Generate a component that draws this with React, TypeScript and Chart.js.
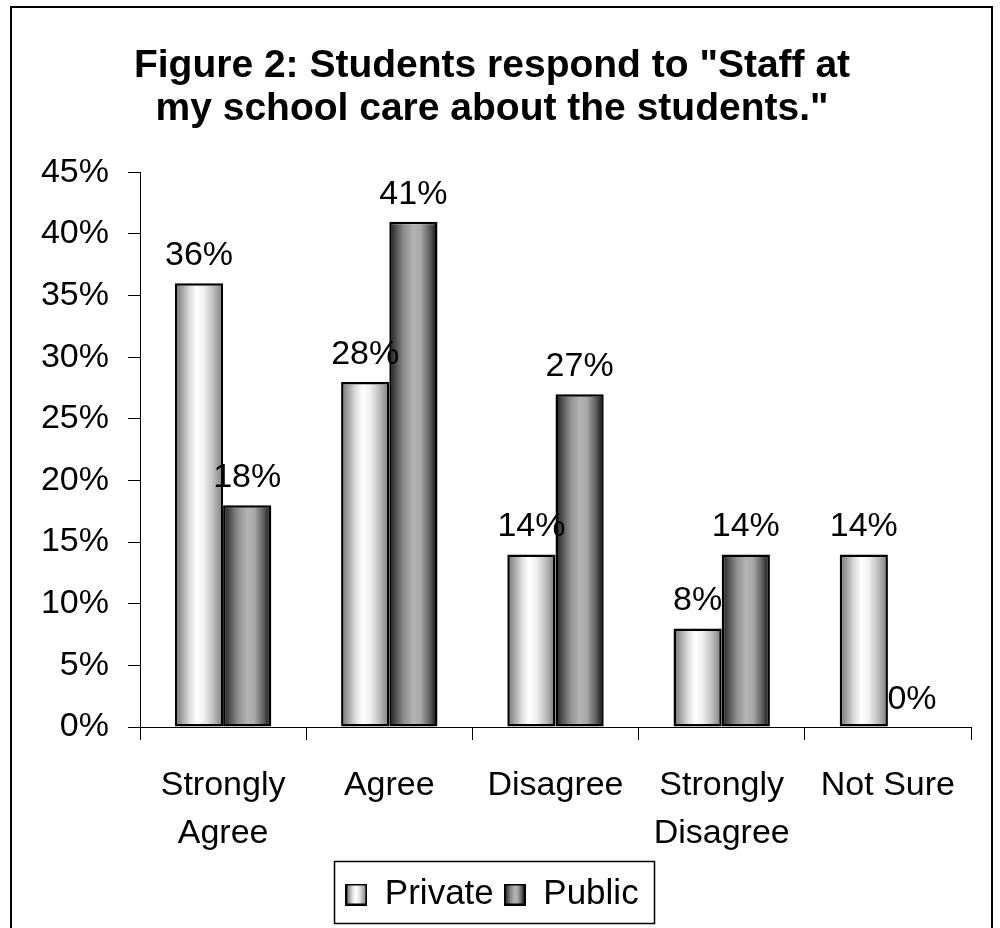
import React, { useEffect, useRef } from "react";
import { Chart, registerables } from "chart.js";

Chart.register(...registerables);

const categories: (string | string[])[] = [["Strongly", "Agree"], "Agree", "Disagree", ["Strongly", "Disagree"], "Not Sure"];
const seriesNames = ["Private", "Public"];
const privateValues = [36, 28, 14, 8, 14];
const publicValues = [18, 41, 27, 14, 0];
const yMin = 0;
const yMax = 45;
const yStep = 5;

const FONT = "'Liberation Sans', Arial, Helvetica, sans-serif";
const CAT_PCT = 0.58;

const privateStops: [number, string][] = [
  [0, "#707070"], [0.12, "#9a9a9a"], [0.3, "#dcdcdc"], [0.45, "#ffffff"], [0.6, "#f0f0f0"], [0.8, "#bdbdbd"], [1, "#7a7a7a"],
];
const publicStops: [number, string][] = [
  [0, "#1a1a1a"], [0.12, "#4a4a4a"], [0.3, "#8c8c8c"], [0.5, "#b4b4b4"], [0.65, "#a8a8a8"], [0.85, "#5a5a5a"], [1, "#0a0a0a"],
];

function makeSwatch(stops: [number, string][]) {
  const c = document.createElement("canvas");
  c.width = 22;
  c.height = 22;
  const g = c.getContext("2d")!;
  const grad = g.createLinearGradient(1, 0, 21, 0);
  stops.forEach(([o, col]) => grad.addColorStop(o, col));
  g.fillStyle = grad;
  g.fillRect(1, 1, 20, 20);
  g.strokeStyle = "#000";
  g.lineWidth = 2;
  g.strokeRect(1, 1, 20, 20);
  return c;
}

function barGradient(stops: [number, string][], dsIndex: number) {
  return (ctx: any) => {
    const chart = ctx.chart;
    const xs = chart.scales && chart.scales.x;
    if (!xs || ctx.type !== "data" || !(xs.right > xs.left)) return stops[3][1];
    const center = xs.getPixelForValue(ctx.dataIndex);
    const catW = (xs.right - xs.left) / categories.length;
    const bw = (catW * CAT_PCT) / 2;
    const left = dsIndex === 0 ? center - bw : center;
    const grad = chart.ctx.createLinearGradient(left, 0, left + bw, 0);
    stops.forEach(([o, col]) => grad.addColorStop(o, col));
    return grad;
  };
}

const framePlugin = {
  id: "frame",
  beforeDraw(chart: any) {
    const c = chart.ctx;
    c.save();
    c.fillStyle = "#fff";
    c.fillRect(0, 0, chart.width, chart.height);
    c.strokeStyle = "#000";
    c.lineWidth = 2;
    c.strokeRect(11, 7, 981, 1000);
    c.restore();
  },
};

const valueLabelPlugin = {
  id: "valueLabels",
  afterDatasetsDraw(chart: any) {
    const c = chart.ctx;
    c.save();
    c.font = `34px ${FONT}`;
    c.fillStyle = "#000";
    c.textAlign = "center";
    c.textBaseline = "alphabetic";
    chart.data.datasets.forEach((ds: any, di: number) => {
      const meta = chart.getDatasetMeta(di);
      meta.data.forEach((el: any, i: number) => {
        c.fillText(`${ds.data[i]}%`, el.x, el.y - 18);
      });
    });
    c.restore();
  },
};

const legendBoxPlugin = {
  id: "legendBox",
  afterDraw(chart: any) {
    const lg = chart.legend;
    if (!lg || !lg.legendHitBoxes || !lg.legendHitBoxes.length) return;
    const boxes = lg.legendHitBoxes;
    let l = Infinity, r = -Infinity, t = Infinity, b = -Infinity;
    boxes.forEach((h: any) => {
      l = Math.min(l, h.left);
      r = Math.max(r, h.left + h.width);
      t = Math.min(t, h.top);
      b = Math.max(b, h.top + h.height);
    });
    const x0 = Math.round(l - 11) + 0.5;
    const y0 = Math.round(t - 16) + 0.5;
    const x1 = Math.round(r + 15) + 0.5;
    const y1 = Math.round(b + 11) + 0.5;
    const c = chart.ctx;
    c.save();
    c.strokeStyle = "#000";
    c.lineWidth = 1.5;
    c.strokeRect(x0, y0, x1 - x0, y1 - y0);
    c.restore();
  },
};

export default function App() {
  const ref = useRef<HTMLCanvasElement>(null);
  useEffect(() => {
    if (!ref.current) return;
    const swatches = [makeSwatch(privateStops), makeSwatch(publicStops)];
    const chart = new Chart(ref.current, {
      type: "bar",
      data: {
        labels: categories,
        datasets: [
          {
            label: seriesNames[0],
            data: privateValues,
            backgroundColor: barGradient(privateStops, 0),
            borderColor: "#000",
            borderWidth: 2.5,
            borderSkipped: false,
            categoryPercentage: CAT_PCT,
            barPercentage: 1,
          },
          {
            label: seriesNames[1],
            data: publicValues,
            backgroundColor: barGradient(publicStops, 1),
            borderColor: "#000",
            borderWidth: 2.5,
            borderSkipped: false,
            categoryPercentage: CAT_PCT,
            barPercentage: 1,
          },
        ],
      },
      options: {
        responsive: false,
        animation: false,
        events: [],
        layout: { padding: { left: 13, right: 29, top: 0, bottom: 6 } },
        plugins: {
          tooltip: { enabled: false },
          title: {
            display: true,
            text: ['Figure 2: Students respond to "Staff at', 'my school care about the students."'],
            color: "#000",
            font: { family: FONT, size: 39, weight: "bold", lineHeight: 1.12 },
            padding: { top: 44, bottom: 41 },
          },
          legend: {
            display: true,
            position: "bottom",
            labels: {
              color: "#000",
              font: { family: FONT, size: 35 },
              usePointStyle: true,
              boxWidth: 22,
              boxHeight: 22,
              padding: 10,
              generateLabels: () =>
                seriesNames.map((name, i) => ({
                  text: name,
                  fillStyle: "#fff",
                  strokeStyle: "#000",
                  lineWidth: 0,
                  pointStyle: swatches[i],
                  hidden: false,
                  datasetIndex: i,
                  fontColor: "#000",
                })),
            },
          },
        },
        scales: {
          x: {
            type: "category",
            grid: { display: true, drawOnChartArea: false, offset: true, tickLength: 13, color: "#000", lineWidth: 1 },
            border: { display: true, color: "#000", width: 1 },
            ticks: {
              color: "#000",
              font: { family: FONT, size: 34, lineHeight: 1.4 },
              padding: 22,
              maxRotation: 0,
              autoSkip: false,
            },
            afterFit: (s: any) => {
              s.height = 140;
            },
          },
          y: {
            type: "linear",
            min: yMin,
            max: yMax,
            grid: { display: true, drawOnChartArea: false, tickLength: 12, color: "#000", lineWidth: 1 },
            border: { display: true, color: "#000", width: 1 },
            ticks: {
              stepSize: yStep,
              color: "#000",
              font: { family: FONT, size: 34 },
              padding: 19,
              callback: (v: any) => `${v}%`,
            },
            afterFit: (s: any) => {
              s.width = 127;
            },
          },
        },
      },
      plugins: [framePlugin, valueLabelPlugin, legendBoxPlugin],
    });
    return () => chart.destroy();
  }, []);
  return (
    <div style={{ position: "fixed", left: 0, top: 0, width: 1000, height: 928, overflow: "hidden", background: "#fff" }}>
      <canvas ref={ref} width={1000} height={928} style={{ width: 1000, height: 928, display: "block" }} />
    </div>
  );
}
